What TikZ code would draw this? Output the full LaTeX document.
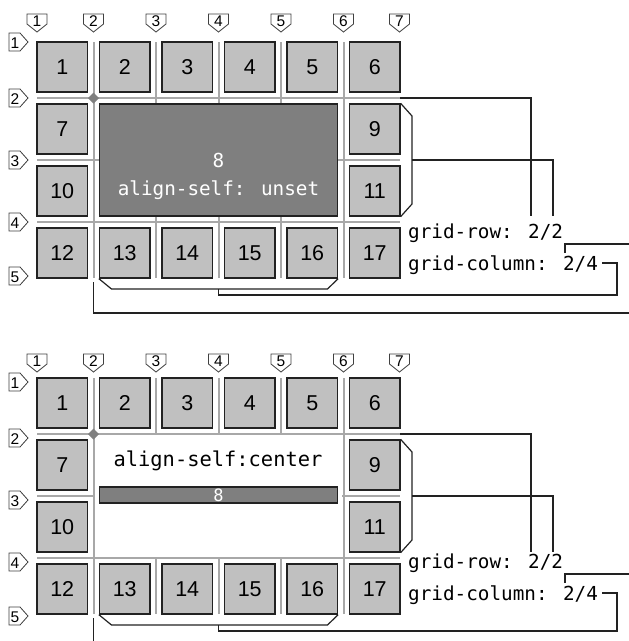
\documentclass[tikz,border=0pt]{standalone}
\usepackage{fontspec}
\setmainfont{Liberation Sans}
\newfontfamily\monof{DejaVu Sans Mono}
\definecolor{itemgray}{HTML}{C0C0C0}
\definecolor{darkitem}{HTML}{7F7F7F}
\definecolor{linegray}{HTML}{A8A8A8}
\definecolor{inkc}{HTML}{222222}
\tikzset{
  item/.style={draw=inkc, line width=1.3pt, fill=itemgray, minimum width=50.5pt,
    minimum height=50pt, inner sep=0pt, font=\fontsize{21.5}{23}\selectfont},
  gline/.style={draw=linegray, line width=2pt},
  conn/.style={draw=inkc, line width=1.2pt},
  markshape/.style={draw=black!75, fill=white, line width=0.8pt, line join=miter},
  mnum/.style={inner sep=0pt, font=\fontsize{15.5}{16}\selectfont},
  monotext/.style={inner sep=0pt, font=\monof\fontsize{19.3}{22}\selectfont},
}
% #1 marker dy, #2 text dy, #3 cover flag (1 = white area)
\newcommand\gridpic[3]{%
  % column markers
  \foreach \k/\xx in {1/37,2/93.5,3/156,4/218.5,5/281,6/343.5,7/399.5}{
    \draw[markshape] (\xx-10,14+#1) -- (\xx+10,14+#1) -- (\xx+10,24+#1)
      -- (\xx,32+#1) -- (\xx-10,24+#1) -- cycle;
    \node[mnum] (cm\k) at (\xx,21.5+#1) {\k};
  }
  % row markers
  \foreach \k/\yy in {1/42,2/98,3/160,4/222,5/276}{
    \draw[markshape] (9,\yy-9+#1) -- (20,\yy-9+#1) -- (28,\yy+#1)
      -- (20,\yy+9+#1) -- (9,\yy+9+#1) -- cycle;
    \node[mnum] (rm\k) at (15,\yy+1.5+#1) {\k};
  }
  % grid lines
  \foreach \xx in {93.5,156,218.5,281,343.5}{
    \draw[gline] (\xx,42) -- (\xx,278);
  }
  \foreach \yy in {98,160,222}{
    \draw[gline] (37,\yy) -- (400,\yy);
  }
  \ifnum#3=1
    \fill[white] (95,99.2) rectangle (342,220.8);
  \fi
  \fill[gray] (93.5,92.5) -- (99,98) -- (93.5,103.5) -- (88,98) -- cycle;
  % items
  \foreach \n/\c/\r in {1/1/1,2/2/1,3/3/1,4/4/1,5/5/1,6/6/1,7/1/2,9/6/2,
      10/1/3,11/6/3,12/1/4,13/2/4,14/3/4,15/4/4,16/5/4,17/6/4}{
    \node[item] (i\n) at ({37+(\c-1)*62.5+25.25},{42+(\r-1)*62+25}) {\n};
  }
  % row bracket and connectors
  \coordinate (rbt) at (412,116);
  \coordinate (rbm) at (412,160);
  \coordinate (rbb) at (412,204);
  \draw[conn] (i9.north east) -- (rbt) -- (rbb) -- (i11.south east);
  \coordinate (r2s) at (400,98);
  \coordinate (r2a) at (531,98);
  \coordinate (r2e) at (531,216);
  \draw[conn] (r2s) -- (r2a) -- (r2e);
  \coordinate (rma) at (553,160);
  \coordinate (rme) at (553,216);
  \draw[conn] (rbm) -- (rma) -- (rme);
  % column bracket and connectors
  \coordinate (cbl) at (111.5,289);
  \coordinate (cbm) at (218.5,289);
  \coordinate (cbr) at (327.5,289);
  \draw[conn] (i13.south west) -- (cbl) -- (cbr) -- (i16.south east);
  \coordinate (cma) at (218.5,295);
  \coordinate (cmb) at (617,295);
  \coordinate (cmc) at (617,263+#2);
  \coordinate (cme) at (602,263+#2);
  \draw[conn] (cbm) -- (cma) -- (cmb) -- (cmc) -- (cme);
  \coordinate (c2s) at (93.5,282);
  \coordinate (c2a) at (93.5,313);
  \coordinate (c2e) at (632,313);
  \draw[conn] (c2s) -- (c2a) -- (c2e);
  \coordinate (c4s) at (565,253+#2);
  \coordinate (c4a) at (565,244+#2);
  \coordinate (c4e) at (632,244+#2);
  \draw[conn] (c4s) -- (c4a) -- (c4e);
  % labels
  \node[monotext, anchor=base west] (lrow) at (408,238+#2) {grid-row: 2/2};
  \node[monotext, anchor=base west] (lcol) at (408,270+#2) {grid-column: 2/4};
}
\begin{document}
\begin{tikzpicture}[x=1pt,y=-1pt]
  \useasboundingbox[fill=white] (0,0) rectangle (629,641);
  % top diagram
  \begin{scope}
    \gridpic{0}{0}{0}
    \node[draw=inkc, line width=1.3pt, fill=darkitem, minimum width=238pt,
      minimum height=112pt, inner sep=0pt] (i8) at (218.5,160) {};
    \node[monotext, text=white, anchor=base] (t8) at (218.5,167) {8};
    \node[monotext, text=white, anchor=base] (t8b) at (218.5,195.7) {align-self: unset};
  \end{scope}
  % bottom diagram
  \begin{scope}[yshift=-336pt, name prefix=b-]
    \gridpic{4}{-6}{1}
    \node[monotext, font=\monof\fontsize{20.4}{23}\selectfont, anchor=base] (t8b)
      at (218,130.7) {align-self:center};
    \node[draw=inkc, line width=1.3pt, fill=darkitem, minimum width=238pt,
      minimum height=16pt, inner sep=0pt] (i8) at (218.5,159) {};
    \node[monotext, font=\monof\fontsize{17}{18}\selectfont, text=white] (t8)
      at (218.5,159) {8};
  \end{scope}
\end{tikzpicture}
\end{document}
